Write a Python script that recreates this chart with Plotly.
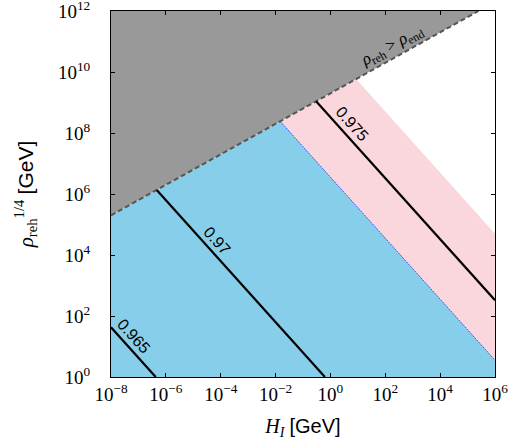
import numpy as np
import plotly.graph_objects as go

# ---------------- data ----------------
x_range = [1e-8, 1e6]     # H_I [GeV]
y_range = [1e0, 1e12]     # rho_reh^(1/4) [GeV]

x_tick_vals = [1e-8, 1e-6, 1e-4, 1e-2, 1e0, 1e2, 1e4, 1e6]
x_tick_text = ["10<sup>−8</sup>", "10<sup>−6</sup>", "10<sup>−4</sup>", "10<sup>−2</sup>",
               "10<sup>0</sup>", "10<sup>2</sup>", "10<sup>4</sup>", "10<sup>6</sup>"]
y_tick_vals = [1e0, 1e2, 1e4, 1e6, 1e8, 1e10, 1e12]
y_tick_text = ["10<sup>0</sup>", "10<sup>2</sup>", "10<sup>4</sup>", "10<sup>6</sup>",
               "10<sup>8</sup>", "10<sup>10</sup>", "10<sup>12</sup>"]

# boundary rho_reh = rho_end (dashed)
end_H = [1e-8, 2.5e5]
end_rho = [2.0e5, 1e12]

# upper edge of the blue region (thin blue dotted)
blue_H = [1.47e-2, 1e6]
blue_rho = [2.42e8, 3.55]

# upper edge of the pink band
pink_H = [8.6, 1e6]
pink_rho = [5.85e9, 5.0e4]

# n_s contours
ns_labels = ["0.965", "0.97", "0.975"]
ns_H_start = [1e-8, 4.64e-7, 0.30]
ns_rho_start = [42.7, 1.36e6, 1.1e9]
ns_H_end = [4.27e-7, 0.63, 1e6]
ns_rho_end = [1.0, 1.0, 331.0]
ns_label_H = [6.5e-8, 6.8e-5, 5.5]

end_label_H = 2.5e2

# ---------------- figure ----------------
fig = go.Figure()
xl, xh = x_range
yl, yh = y_range

# pink band
fig.add_trace(go.Scatter(
    x=[blue_H[0], pink_H[0], pink_H[1], blue_H[1], blue_H[0]],
    y=[blue_rho[0], pink_rho[0], pink_rho[1], blue_rho[1], blue_rho[0]],
    fill="toself", fillcolor="#FAD6DD", line=dict(width=0), mode="lines",
    hoverinfo="skip", showlegend=False))

# blue region
fig.add_trace(go.Scatter(
    x=[xl, end_H[0], blue_H[0], blue_H[1], xh, xl],
    y=[yl, end_rho[0], blue_rho[0], blue_rho[1], yl, yl],
    fill="toself", fillcolor="#87CEEB", line=dict(width=0), mode="lines",
    hoverinfo="skip", showlegend=False))

# gray excluded region
fig.add_trace(go.Scatter(
    x=[end_H[0], end_H[1], xl, end_H[0]],
    y=[end_rho[0], end_rho[1], yh, end_rho[0]],
    fill="toself", fillcolor="#999999", line=dict(width=0), mode="lines",
    hoverinfo="skip", showlegend=False))

# thin blue dotted edge
fig.add_trace(go.Scatter(x=blue_H, y=blue_rho, mode="lines",
                         line=dict(color="#3355ff", width=1, dash="2px,1px"),
                         showlegend=False, hoverinfo="skip"))

# dashed boundary
fig.add_trace(go.Scatter(x=end_H, y=end_rho, mode="lines",
                         line=dict(color="#555555", width=2, dash="5px,3px"),
                         showlegend=False, hoverinfo="skip"))

# contours
for lab, h0, r0, h1, r1, hl in zip(ns_labels, ns_H_start, ns_rho_start,
                                    ns_H_end, ns_rho_end, ns_label_H):
    fig.add_trace(go.Scatter(x=[h0, h1], y=[r0, r1], mode="lines",
                             line=dict(color="black", width=2.2),
                             showlegend=False, hoverinfo="skip"))
    lx0, ly0, lx1, ly1 = np.log10([h0, r0, h1, r1])
    t = (np.log10(hl) - lx0) / (lx1 - lx0)
    ly = ly0 + t * (ly1 - ly0)
    fig.add_annotation(x=np.log10(hl), y=ly, text=lab, showarrow=False,
                       textangle=48, xshift=1, yshift=16,
                       font=dict(family="Liberation Sans, Arial", size=16, color="black"))

# label on the dashed boundary
ex0, ey0, ex1, ey1 = np.log10([end_H[0], end_rho[0], end_H[1], end_rho[1]])
t = (np.log10(end_label_H) - ex0) / (ex1 - ex0)
fig.add_annotation(x=np.log10(end_label_H), y=ey0 + t * (ey1 - ey0),
                   text="<i>ρ</i><sub>reh</sub> > <i>ρ</i><sub>end</sub>",
                   showarrow=False, textangle=-29, xshift=-4, yshift=11,
                   font=dict(family="Liberation Serif", size=17, color="black"))

axis_common = dict(
    type="log", showgrid=False, zeroline=False,
    ticks="inside", ticklen=4, tickwidth=1, tickcolor="black",
    showline=True, linecolor="black", linewidth=1, mirror="ticks",
    tickfont=dict(family="Liberation Serif", size=19, color="black"),
)

fig.update_xaxes(**axis_common, range=[np.log10(xl), np.log10(xh)],
                 tickvals=x_tick_vals, ticktext=x_tick_text,
                 title=dict(text="<i>H<sub>I</sub></i> <span style='font-family:Liberation Sans'>[GeV]</span>",
                            font=dict(family="Liberation Serif", size=20, color="black"),
                            standoff=20))
fig.update_yaxes(**axis_common, range=[np.log10(yl), np.log10(yh)],
                 tickvals=y_tick_vals, ticktext=y_tick_text,
                 ticklabelstandoff=16, ticklabeloverflow="allow",
                 title=dict(text="<i>ρ</i><sub>reh</sub><sup>1/4</sup> <span style='font-family:Liberation Sans'>[GeV]</span>",
                            font=dict(family="Liberation Serif", size=21, color="black"),
                            standoff=18))

fig.update_layout(
    width=509, height=440,
    margin=dict(l=111, r=14, t=11, b=63, autoexpand=False),
    plot_bgcolor="white", paper_bgcolor="white",
)

fig.write_html("out.html")
